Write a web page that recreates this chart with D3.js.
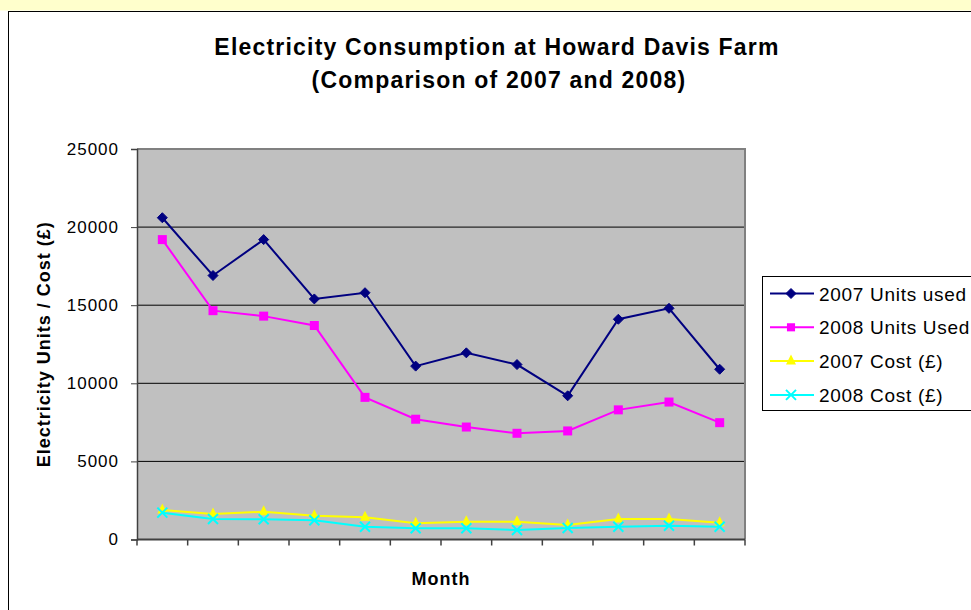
<!DOCTYPE html>
<html>
<head>
<meta charset="utf-8">
<script src="https://cdn.jsdelivr.net/npm/d3@7"></script>
<style>
  html, body { margin: 0; padding: 0; background: #fff; overflow: hidden; }
  svg { display: block; font-family: Arial, "Liberation Sans", sans-serif; }
</style>
</head>
<body>
<div id="chart"></div>
<script>
// ── Data ──────────────────────────────────────────────────────────────────
const months = ['Jan', 'Feb', 'Mar', 'Apr', 'May', 'Jun', 'Jul', 'Aug', 'Sep', 'Oct', 'Nov', 'Dec'];
const units2007 = [20600, 16900, 19200, 15400, 15800, 11100, 11950, 11200, 9200, 14100, 14800, 10900];
const units2008 = [19200, 14650, 14300, 13700, 9100, 7700, 7200, 6800, 6950, 8300, 8800, 7480];
const cost2007  = [1890, 1630, 1780, 1520, 1420, 1040, 1140, 1140, 930, 1310, 1310, 1070];
const cost2008  = [1720, 1310, 1300, 1230, 820, 720, 720, 610, 740, 820, 880, 820];
const yTicks = [0, 5000, 10000, 15000, 20000, 25000];
const seriesNames = ['2007 Units used', '2008 Units Used', '2007 Cost (£)', '2008 Cost (£)'];

const series = [
  { name: seriesNames[0], values: units2007, color: '#000080', marker: 'diamond' },
  { name: seriesNames[1], values: units2008, color: '#ff00ff', marker: 'square' },
  { name: seriesNames[2], values: cost2007,  color: '#ffff00', marker: 'triangle' },
  { name: seriesNames[3], values: cost2008,  color: '#00ffff', marker: 'cross' }
];

// ── Layout ────────────────────────────────────────────────────────────────
const W = 971, H = 610;
const plotBox = { left: 137, right: 745, top: 149, bottom: 539.5 };

const svg = d3.select('#chart').append('svg').attr('width', W).attr('height', H);

// Yellow strip of the page above the chart (the caption text is cut off)
svg.append('rect').attr('x', 0).attr('y', 0).attr('width', W).attr('height', 10.5).attr('fill', '#ffffcc');

// Chart area frame (runs off the right and bottom edge)
svg.append('rect').attr('x', 8.5).attr('y', 11.5).attr('width', W + 20).attr('height', H + 20)
  .attr('fill', '#fff').attr('stroke', '#000').attr('stroke-width', 1);

// Title
const title = svg.append('text').attr('text-anchor', 'middle')
  .attr('font-weight', 'bold').attr('font-size', 23).attr('letter-spacing', 1.2).attr('fill', '#000');
title.append('tspan').attr('x', 497).attr('y', 55).text('Electricity Consumption at Howard Davis Farm');
title.append('tspan').attr('x', 499).attr('y', 88).text('(Comparison of 2007 and 2008)');

// Scales
const x = d3.scaleBand().domain(months).range([plotBox.left, plotBox.right]).padding(0);
const y = d3.scaleLinear().domain([0, 25000]).range([plotBox.bottom, plotBox.top]);
const cx = m => x(m) + x.bandwidth() / 2;

// Plot background
svg.append('rect')
  .attr('x', plotBox.left).attr('y', plotBox.top)
  .attr('width', plotBox.right - plotBox.left).attr('height', plotBox.bottom - plotBox.top)
  .attr('fill', '#c0c0c0');

// Gridlines
svg.append('g')
  .selectAll('line').data(yTicks.filter(t => t > 0 && t < 25000)).enter().append('line')
  .attr('x1', plotBox.left).attr('x2', plotBox.right)
  .attr('y1', d => y(d)).attr('y2', d => y(d))
  .attr('stroke', '#000').attr('stroke-width', 1);

// Plot border (top/right grey)
svg.append('path')
  .attr('d', `M${plotBox.left},${y(25000)}H${plotBox.right}V${plotBox.bottom}`)
  .attr('fill', 'none').attr('stroke', '#808080').attr('stroke-width', 2);

// Y axis
const yAxis = svg.append('g').attr('transform', `translate(${plotBox.left},0)`)
  .call(d3.axisLeft(y).tickValues(yTicks).tickSize(6).tickPadding(12).tickFormat(d3.format('d')));
yAxis.select('.domain').attr('stroke', '#404040').attr('stroke-width', 1.5);
yAxis.selectAll('.tick line').attr('stroke', '#404040');
yAxis.selectAll('.tick text')
  .attr('font-size', 17).attr('letter-spacing', 1).attr('fill', '#000')
  .attr('font-family', 'Arial, "Liberation Sans", sans-serif');

// X axis: ticks on the month boundaries, no labels
const xAxisG = svg.append('g').attr('transform', `translate(0,${plotBox.bottom})`);
xAxisG.append('line').attr('x1', plotBox.left).attr('x2', plotBox.right)
  .attr('stroke', '#404040').attr('stroke-width', 2);
const bounds = months.map(m => x(m)).concat([x(months[months.length - 1]) + x.bandwidth()]);
xAxisG.selectAll('.xt').data(bounds).enter().append('line')
  .attr('class', 'xt')
  .attr('x1', d => d).attr('x2', d => d).attr('y1', 0).attr('y2', 6)
  .attr('stroke', '#404040').attr('stroke-width', 1.5);

// Axis titles
svg.append('text').attr('x', 441).attr('y', 585).attr('text-anchor', 'middle')
  .attr('font-weight', 'bold').attr('font-size', 18).attr('letter-spacing', 1).text('Month');
svg.append('text').attr('transform', `translate(50,${(plotBox.top + plotBox.bottom) / 2}) rotate(-90)`)
  .attr('text-anchor', 'middle').attr('font-weight', 'bold').attr('font-size', 18).attr('letter-spacing', 1)
  .text('Electricity Units / Cost (£)');

// ── Markers ───────────────────────────────────────────────────────────────
function drawMarker(g, type, color, px, py, s) {
  if (type === 'diamond') {
    g.append('path').attr('d', `M${px},${py - s}L${px + s},${py}L${px},${py + s}L${px - s},${py}Z`)
      .attr('fill', color).attr('stroke', color);
  } else if (type === 'square') {
    g.append('rect').attr('x', px - s * 0.9).attr('y', py - s * 0.9).attr('width', s * 1.8).attr('height', s * 1.8)
      .attr('fill', color);
  } else if (type === 'triangle') {
    g.append('path').attr('d', `M${px},${py - s * 1.3}L${px + s},${py + s * 0.7}L${px - s},${py + s * 0.7}Z`)
      .attr('fill', color);
  } else {
    g.append('path').attr('d', `M${px - s},${py - s}L${px + s},${py + s}M${px - s},${py + s}L${px + s},${py - s}`)
      .attr('stroke', color).attr('stroke-width', 2).attr('fill', 'none');
  }
}

// ── Series ────────────────────────────────────────────────────────────────
const line = d3.line().x((d, i) => cx(months[i])).y(d => y(d));
// cost series first, units lines on top
[2, 3, 1, 0].forEach(k => {
  const s = series[k];
  const g = svg.append('g');
  g.append('path').datum(s.values).attr('d', line)
    .attr('fill', 'none').attr('stroke', s.color).attr('stroke-width', 2);
  s.values.forEach((v, i) => drawMarker(g, s.marker, s.color, cx(months[i]), y(v), 5));
});

// ── Legend ────────────────────────────────────────────────────────────────
const legend = svg.append('g');
legend.append('rect').attr('x', 762.5).attr('y', 276.5).attr('width', 240).attr('height', 134)
  .attr('fill', '#fff').attr('stroke', '#000').attr('stroke-width', 1);
series.forEach((s, i) => {
  const ly = 293.5 + i * 33.8;
  legend.append('line').attr('x1', 770).attr('x2', 814).attr('y1', ly).attr('y2', ly)
    .attr('stroke', s.color).attr('stroke-width', 2);
  drawMarker(legend, s.marker, s.color, 791, ly, s.marker === 'square' ? 4.5 : 5);
  legend.append('text').attr('x', 819).attr('y', ly + 7).attr('font-size', 19).attr('letter-spacing', 0.7)
    .attr('fill', '#000').text(s.name);
});
</script>
</body>
</html>
